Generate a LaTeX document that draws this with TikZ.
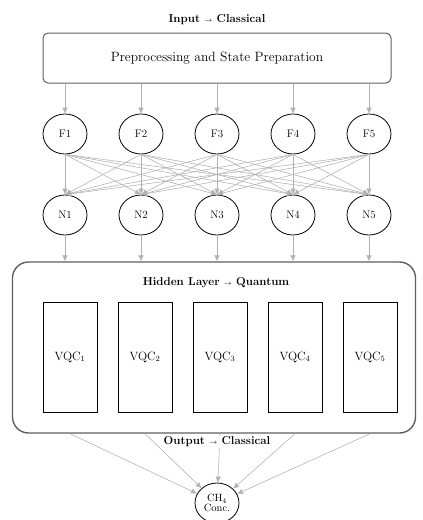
\documentclass[tikz,border=0pt]{standalone}
\usepackage{amsmath}
\usepackage{tikz}
\usetikzlibrary{positioning,shapes.geometric,arrows.meta}
\definecolor{edgegray}{RGB}{178,178,178}
\definecolor{boxgray}{RGB}{95,95,95}

\begin{document}
\begin{tikzpicture}[
    x=1pt, y=-1pt,
    >={Latex[length=6pt,width=5.5pt]},
    neuron/.style={ellipse, draw, line width=0.8pt, minimum width=44pt, minimum height=40pt, inner sep=0pt, font=\fontsize{11}{13}\selectfont},
    vqc/.style={rectangle, draw, line width=0.8pt, minimum width=54pt, minimum height=110pt, font=\fontsize{12}{14}\selectfont},
    conn/.style={->, draw=edgegray, fill=edgegray, line width=0.5pt},
    heading/.style={font=\fontsize{11.5}{13}\selectfont\bfseries, inner sep=1pt}
]
    \useasboundingbox (0,0) rectangle (423,520);

    % input side
    \node[heading] (intitle) at (217,20) {Input {\scriptsize$\rightarrow$} Classical};
    \node[draw=boxgray, rounded corners=5pt, line width=1pt, minimum width=348pt, minimum height=50pt, font=\fontsize{13.5}{16}\selectfont] (prep) at (217,58) {Preprocessing and State Preparation};

    % hidden layer box
    \node[draw=boxgray, rounded corners=16pt, line width=1.4pt, minimum width=403pt, minimum height=171pt] (hidden) at (214,347.5) {};
    \node[heading] (hidtitle) at (216,283) {Hidden Layer {\scriptsize$\rightarrow$} Quantum};

    % feature and neuron nodes
    \foreach \i/\x in {1/65,2/141,3/217,4/293,5/369} {
        \node[neuron] (f\i) at (\x,134) {F\i};
        \node[neuron] (n\i) at (\x,215) {N\i};
        \coordinate (p\i) at (f\i.north |- prep.south);
        \coordinate (h\i) at (n\i.south |- hidden.north);
    }
    \foreach \i/\x in {1/70,2/145,3/220,4/295,5/370} {
        \node[vqc] (q\i) at (\x,357) {VQC$_\i$};
        \coordinate (o\i) at (q\i.south |- hidden.south);
    }

    % output side
    \node[neuron, align=center, font=\fontsize{10.5}{11}\selectfont] (out) at (217,503) {CH$_4$\\[-1pt]Conc.};

    \foreach \i in {1,...,5} {
        \draw[conn] (p\i) -- (f\i);
        \draw[conn] (n\i) -- (h\i);
        \draw[conn] (o\i) -- (out);
        \foreach \j in {1,...,5}
            \draw[conn] (f\i.south) -- (n\j.north);
    }
    \node[heading, fill=white] (outtitle) at (217,442) {Output {\scriptsize$\rightarrow$} Classical};
\end{tikzpicture}
\end{document}
